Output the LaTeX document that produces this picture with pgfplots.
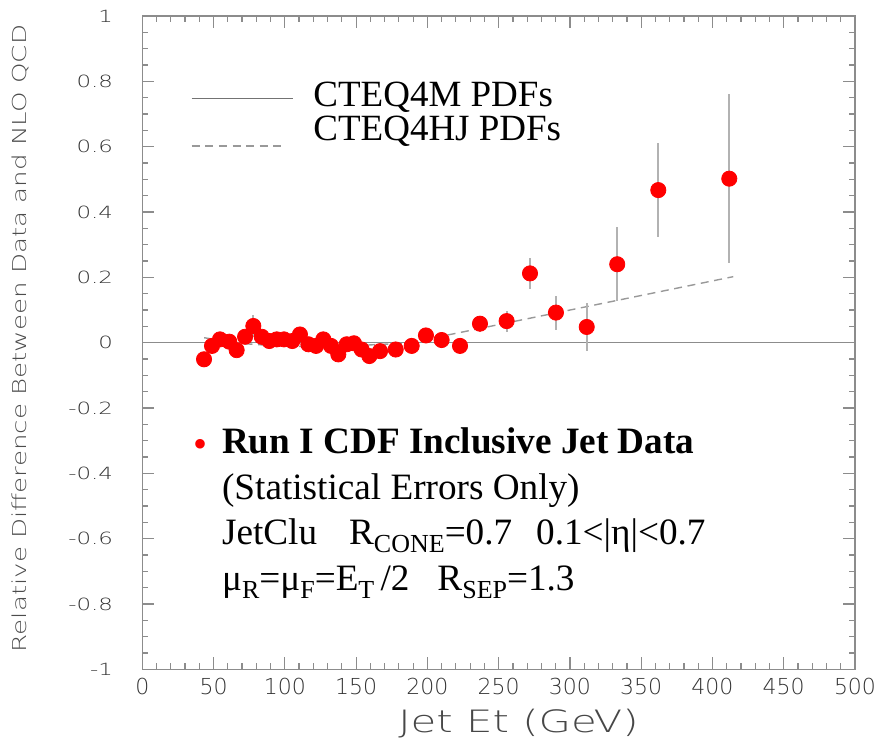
\documentclass[border=0pt]{standalone}
\usepackage{pgfplots}
\pgfplotsset{compat=1.18}
\usepackage{pgfplotstable}
\usepackage{fontspec}
\setmainfont{Liberation Serif}
\newfontfamily\hs[FakeStretch=1.36]{DejaVu Sans ExtraLight}
\newfontfamily\hsn{DejaVu Sans ExtraLight}
\newcommand\sub[1]{\raisebox{-4pt}{\fontsize{13}{13}\selectfont #1}}

\pgfplotstableread{
x y e
43.3 -0.051 0.012
48.9 -0.010 0.012
54.5 0.010 0.012
61.0 0.003 0.013
66.2 -0.023 0.013
72.1 0.018 0.014
77.9 0.051 0.035
83.8 0.018 0.015
89.1 0.005 0.015
94.3 0.010 0.015
99.4 0.010 0.015
105.2 0.005 0.016
110.6 0.025 0.016
116.5 -0.005 0.016
121.9 -0.010 0.017
127.0 0.010 0.017
132.4 -0.010 0.017
137.5 -0.036 0.018
143.4 -0.005 0.018
148.5 -0.002 0.018
153.9 -0.021 0.019
159.3 -0.041 0.019
166.8 -0.026 0.018
177.8 -0.021 0.019
189.0 -0.010 0.020
199.0 0.022 0.021
210.0 0.008 0.022
222.9 -0.010 0.022
236.9 0.058 0.025
255.6 0.066 0.032
272.0 0.212 0.047
290.2 0.092 0.052
311.8 0.048 0.074
333.2 0.240 0.114
362.0 0.467 0.145
411.8 0.502 0.258
}\datatab

\pgfplotstableread{
x y
43.4 0.015
55 0.007
70.9 -0.003
94.3 -0.010
120 -0.012
155 -0.008
183 -0.002
200 0.011
222.9 0.031
414.6 0.202
}\hjtab

\begin{document}
\begin{tikzpicture}
\path[use as bounding box] (-71.15pt,-36.35pt) rectangle (367.85pt,334.65pt);
\begin{axis}[
  scale only axis, width=356.35pt, height=326.65pt,
  at={(0pt,0pt)}, anchor=south west,
  xmin=0, xmax=500, ymin=-1, ymax=1,
  xtick={0,50,...,500}, minor x tick num=4,
  ytick={-1,-0.8,-0.6,-0.4,-0.2,0,0.2,0.4,0.6,0.8,1}, minor y tick num=3,
  tick align=inside, xtick pos=both, ytick pos=both,
  xticklabel pos=lower, yticklabel pos=left,
  major tick length=6pt, minor tick length=3pt,
  axis line style={draw=black!45, line width=0.75pt},
  every tick/.style={draw=black!45, line width=0.6pt},
  /pgf/number format/assume math mode=true,
  yticklabel style={font=\hs\fontsize{8.4}{9}\selectfont, text=black!80, anchor=east, inner sep=0pt, xshift=-14.5pt},
  xticklabel style={font=\hsn\fontsize{11}{12}\selectfont, text=black!80, anchor=north, inner sep=0pt, yshift=-4pt},
  ylabel={Relative Difference Between Data and NLO QCD},
  xlabel={Jet Et (GeV)},
  every axis y label/.style={at={(axis description cs:-0.1712,0.5064)}, rotate=90, anchor=center, font=\hs\fontsize{9.6}{10}\selectfont, text=black!70},
  every axis x label/.style={at={(axis description cs:0.5279,-0.0967)}, anchor=base, font=\hs\fontsize{15.4}{16}\selectfont, text=black!72},
]
\addplot[black!45, line width=0.7pt] coordinates {(0,0) (500,0)};
\addplot[black!40, line width=0.7pt, dash pattern=on 4pt off 2.8pt] table[x=x,y=y]{\hjtab};
\addplot[only marks, mark=none, error bars/.cd, y dir=both, y explicit, error mark=none,
  error bar style={draw=black!30, line width=1pt}] table[x=x,y=y,y error=e]{\datatab};
\addplot[only marks, mark=*, mark size=3.8pt, color=red, mark options={draw=red, fill=red}] table[x=x,y=y]{\datatab};
\end{axis}
% legend
\draw[black!55, line width=0.7pt] (24.7pt,285.5pt) -- (75.5pt,285.5pt);
\node[anchor=base west, inner sep=0pt, font=\fontsize{18.5}{20}\selectfont] at (85.35pt,281.3pt) {CTEQ4M PDFs};
\draw[black!40, line width=0.7pt, dash pattern=on 4pt off 2.8pt] (24.7pt,261.65pt) -- (72.2pt,261.65pt);
\node[anchor=base west, inner sep=0pt, font=\fontsize{18.5}{20}\selectfont] at (85.35pt,264.15pt) {CTEQ4HJ PDFs};
% data description
\node[anchor=center, inner sep=0pt, text=red, font=\fontsize{20}{20}\selectfont] at (29.2pt,110.3pt) {\textbullet};
\node[anchor=base west, inner sep=0pt, font=\fontsize{18.6}{20}\selectfont\bfseries] at (39.7pt,107.9pt) {Run I CDF Inclusive Jet Data};
\node[anchor=base west, inner sep=0pt, font=\fontsize{18.6}{20}\selectfont] at (39.7pt,84.9pt) {(Statistical Errors Only)};
\node[anchor=base west, inner sep=0pt, font=\fontsize{18.6}{20}\selectfont] at (39.7pt,62.15pt) {JetClu\hspace{16pt}R\sub{CONE}=0.7\hspace{12pt}0.1<|η|<0.7};
\node[anchor=base west, inner sep=0pt, font=\fontsize{18.6}{20}\selectfont] at (39.7pt,39.15pt) {μ\sub{R}=μ\sub{F}=E\sub{T}\,/2\hspace{14pt}R\sub{SEP}=1.3};
\end{tikzpicture}
\end{document}
